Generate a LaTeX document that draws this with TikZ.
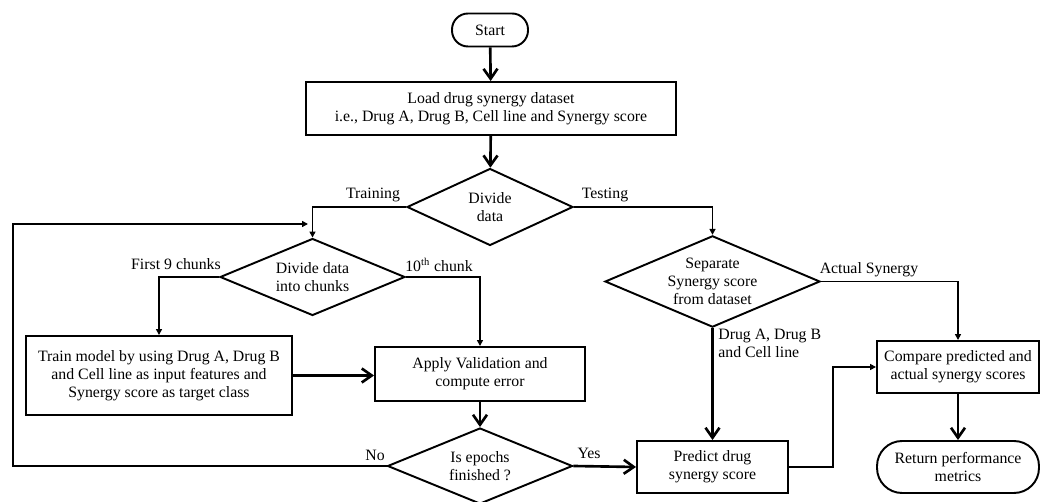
\documentclass[tikz,border=0pt]{standalone}
\usepackage{fontspec}
\setmainfont{Liberation Serif}
\usetikzlibrary{shapes.geometric,arrows.meta}
\begin{document}
\begin{tikzpicture}[x=0.02cm,y=-0.02cm,
  every node/.style={font=\fontsize{9}{10.2}\selectfont},
  lbl/.style={inner sep=0pt},
  box/.style={draw,line width=1.1pt,align=center,inner sep=1pt},
  term/.style={box,rounded corners=0.32cm},
  dec/.style={draw,diamond,line width=1.1pt,align=center,inner sep=0pt,aspect=2},
  conn/.style={line width=1.1pt,-{Triangle[length=0.12cm,width=0.12cm]}},
  big/.style={line width=1.5pt,-{Straight Barb[length=0.2cm,width=0.28cm,line width=1.5pt]}}
]
\useasboundingbox (0,0) rectangle (1041,502);
\fill[white] (0,0) rectangle (1041,502);

\node[term,minimum width=1.52cm,minimum height=0.66cm] (start) at (490,30) {Start};
\node[box,minimum width=7.4cm,minimum height=1.06cm] (load) at (491,108.5)
  {Load drug synergy dataset\\i.e., Drug A, Drug B, Cell line and Synergy score};
\node[dec,minimum width=3.32cm,minimum height=1.54cm] (div) at (490,207) {Divide\\data};
\node[dec,minimum width=3.7cm,minimum height=1.54cm] (chunks) at (312.5,277) {Divide data\\into chunks};
\node[box,minimum width=5.32cm,minimum height=1.58cm] (train) at (159,375.5)
  {Train model by using Drug A, Drug B\\and Cell line as input features and\\Synergy score as target class};
\node[box,minimum width=4.2cm,minimum height=1.08cm] (apply) at (480,374)
  {Apply Validation and\\compute error};
\node[dec,minimum width=3.7cm,minimum height=1.52cm] (epochs) at (480,466) {Is epochs\\finished ?};
\node[dec,minimum width=4.3cm,minimum height=1.82cm] (sep) at (712.5,281.5)
  {Separate\\Synergy score\\from dataset};
\node[box,minimum width=3.02cm,minimum height=1.04cm] (predict) at (712.5,467)
  {Predict drug\\synergy score};
\node[box,minimum width=3.24cm,minimum height=1.04cm] (compare) at (958,367)
  {Compare predicted and\\actual synergy scores};
\node[term,rounded corners=0.5cm,minimum width=3.24cm,minimum height=1.04cm] (ret) at (958,467)
  {Return performance\\metrics};

\node[lbl] (ltrain) at (373,195) {Training};
\node[lbl] (ltest) at (605,195) {Testing};
\node[lbl] (lfirst) at (176,264) {First 9 chunks};
\node[lbl] (ltenth) at (439,265) {10\textsuperscript{th} chunk};
\node[lbl] (lact) at (869,270) {Actual Synergy};
\node[lbl,anchor=west,align=left] (ldrug) at (718,343) {Drug A, Drug B\\and Cell line};
\node[lbl] (lno) at (375,455) {No};
\node[lbl] (lyes) at (589,453) {Yes};

\coordinate (loopL) at (13,224);
\coordinate (loopR) at (308,224);
\coordinate (pc) at (833,367);

\draw[big] (start) -- (load);
\draw[big] (load) -- (div);
\draw[conn] (div.west) -| (chunks.north);
\draw[conn] (div.east) -| (sep.north);
\draw[conn] (chunks.west) -| (train.north);
\draw[conn] (chunks.east) -| (apply.north);
\draw[big] (train.east) -- (apply.west |- train.east);
\draw[big] (apply) -- (epochs);
\draw[conn] (epochs.west) -| (loopL) -- (loopR);
\draw[big] (epochs.east) -- (predict.west);
\draw[big] (sep.south) -- (predict.north);
\draw[conn] (sep.east) -| (compare.north);
\draw[conn] (predict.east) -| (pc) -- (compare.west);
\draw[big] (compare) -- (ret);
\end{tikzpicture}
\end{document}
